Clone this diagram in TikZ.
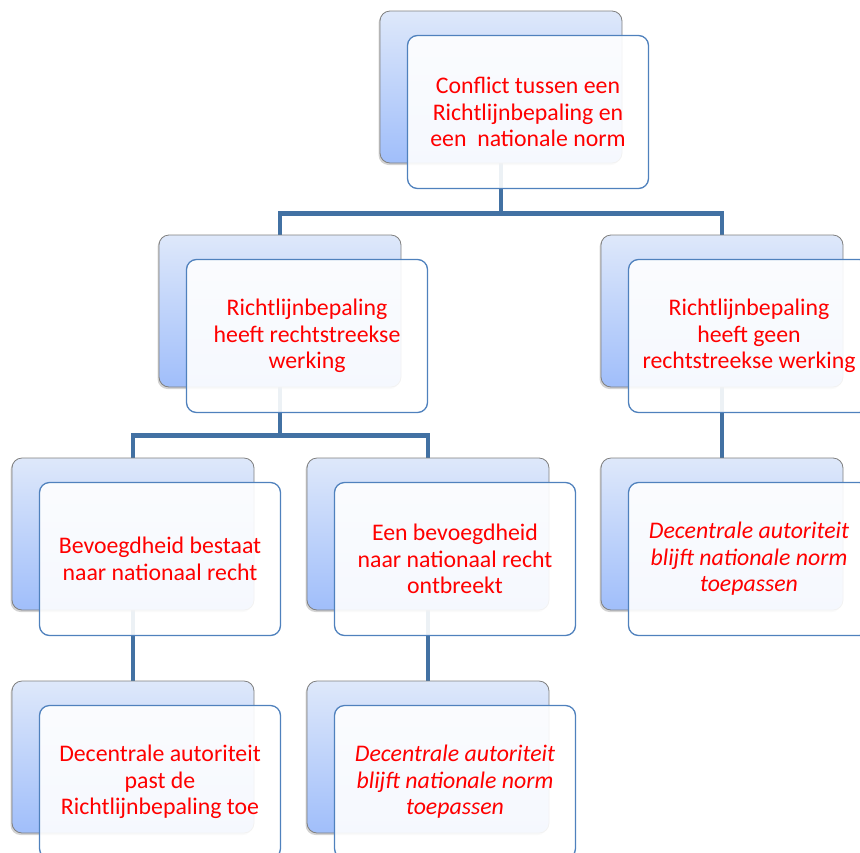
\documentclass[tikz,border=0pt]{standalone}
\usepackage{fontspec}
\setmainfont{Carlito}
\usetikzlibrary{shadows,backgrounds}
\definecolor{linkblue}{RGB}{66,113,163}
\definecolor{frontblue}{RGB}{79,129,189}
\definecolor{backtop}{RGB}{222,232,250}
\definecolor{backbot}{RGB}{160,190,250}

\begin{document}
\begin{tikzpicture}[x=1pt,y=-1pt,
    back/.style={rectangle,rounded corners=10pt,draw=gray,line width=0.8pt,top color=backtop,bottom color=backbot,minimum width=242pt,minimum height=152pt,drop shadow={shadow xshift=-1.5pt,shadow yshift=-2pt,opacity=0.35}},
    front/.style={rectangle,rounded corners=10pt,draw=frontblue,line width=1.3pt,fill=white,fill opacity=0.9,text opacity=1,minimum width=241pt,minimum height=153pt,text=red,align=center,font=\fontsize{23.8}{26.5}\selectfont},
    link/.style={draw=linkblue,line width=4.5pt}]
            \clip (0,0) rectangle (860,852);

            \node (conflictB) at (501,87) [back] {};
            \node (directB) at (280,311) [back] {};
            \node (geenB) at (722,311) [back] {};
            \node (bestaatB) at (133,534) [back] {};
            \node (ontbreektB) at (428,534) [back] {};
            \node (blijvenB) at (722,534) [back] {};
            \node (toepassingB) at (133,757) [back] {};
            \node (nietB) at (428,757) [back] {};

            \begin{pgfonlayer}{background}
            \draw[link] (conflictB.south) -- ++(0,50) coordinate (j1);
            \draw[link] (directB.north) |- (j1) -| (geenB.north);
            \draw[link] (directB.south) -- ++(0,48) coordinate (j2);
            \draw[link] (bestaatB.north) |- (j2) -| (ontbreektB.north);
            \draw[link] (geenB.south) -- (blijvenB.north);
            \draw[link] (bestaatB.south) -- (toepassingB.north);
            \draw[link] (ontbreektB.south) -- (nietB.north);
            \end{pgfonlayer}

            \node (conflict) at ([shift={(27,25)}]conflictB) [front] {Conflict tussen een\\Richtlijnbepaling en\\een~ nationale norm};
            \node (direct) at ([shift={(27,25)}]directB) [front] {Richtlijnbepaling\\heeft rechtstreekse\\werking};
            \node (geen) at ([shift={(27,25)}]geenB) [front] {Richtlijnbepaling\\heeft geen\\rechtstreekse werking};
            \node (bestaat) at ([shift={(27,25)}]bestaatB) [front] {Bevoegdheid bestaat\\naar nationaal recht};
            \node (ontbreekt) at ([shift={(27,25)}]ontbreektB) [front] {Een bevoegdheid\\naar nationaal recht\\ontbreekt};
            \node (blijven) at ([shift={(27,25)}]blijvenB) [front,font=\fontsize{23.8}{26.5}\selectfont\itshape] {Decentrale autoriteit\\blijft nationale norm\\toepassen};
            \node (toepassing) at ([shift={(27,25)}]toepassingB) [front] {Decentrale autoriteit\\past de\\Richtlijnbepaling toe};
            \node (niet) at ([shift={(27,25)}]nietB) [front,font=\fontsize{23.8}{26.5}\selectfont\itshape] {Decentrale autoriteit\\blijft nationale norm\\toepassen};

        \end{tikzpicture}
\end{document}
